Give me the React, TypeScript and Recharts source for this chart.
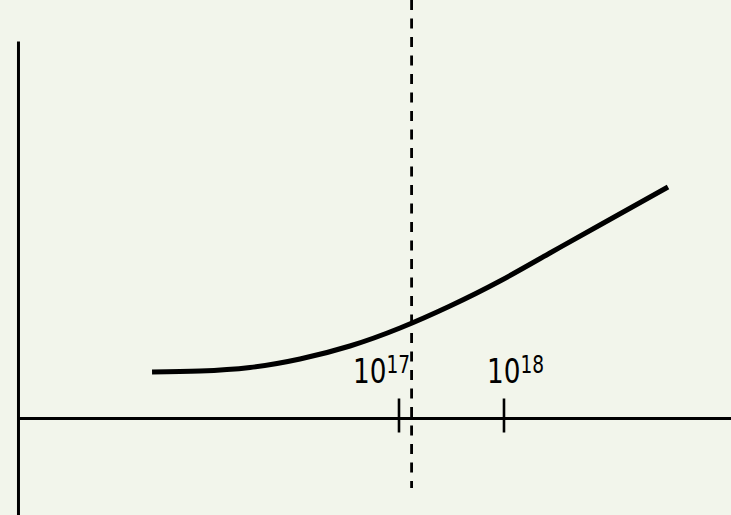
import React from 'react';
import { LineChart, Line, XAxis, YAxis, ReferenceLine, ReferenceDot } from 'recharts';

// log10 of the x quantity vs. the measured response (arbitrary units)
const logX = [14.648, 15.105, 15.581, 16.057, 16.533, 17.01, 17.486, 17.962, 18.438, 18.914, 19.562];
const response = [0.465, 0.475, 0.51, 0.595, 0.725, 0.905, 1.125, 1.375, 1.655, 1.935, 2.315];

// decade ticks on the horizontal axis
const tickDecades = [17, 18];
const tickExponents = ['17', '18'];

// critical value marked by the dashed line
const CRITICAL_LOG_X = 17.12;

const X_DOMAIN: [number, number] = [13.2, 20.162];
const Y_DOMAIN: [number, number] = [-0.965, 4.185];
const AXIS_X = 13.376;
const AXIS_TOP = 3.77;
const DASH_BOTTOM = -0.695;

const curveData = logX.map((x, i) => ({ x, y: response[i] }));

const INK = '#000';
const FONT = "'DejaVu Sans Condensed', 'DejaVu Sans', sans-serif";

// left edge of each label relative to its tick, in px
const labelDx = [-46, -17];

const App: React.FC = () => {
    return (
        <div style={{ position: 'absolute', left: 0, top: 0, width: 731, height: 515, background: '#f2f5eb' }}>
            <LineChart width={731} height={515} data={curveData} margin={{ top: 0, right: 0, bottom: 0, left: 0 }}>
                <XAxis type="number" dataKey="x" domain={X_DOMAIN} allowDataOverflow hide />
                <YAxis type="number" domain={Y_DOMAIN} allowDataOverflow hide />

                {/* axes */}
                <ReferenceLine
                    segment={[{ x: AXIS_X, y: AXIS_TOP }, { x: AXIS_X, y: Y_DOMAIN[0] }]}
                    stroke={INK}
                    strokeWidth={3}
                    ifOverflow="visible"
                />
                <ReferenceLine
                    segment={[{ x: AXIS_X, y: 0 }, { x: X_DOMAIN[1], y: 0 }]}
                    stroke={INK}
                    strokeWidth={3}
                    ifOverflow="visible"
                />

                {/* decade ticks crossing the axis */}
                {tickDecades.map((d) => (
                    <ReferenceLine
                        key={`tick-${d}`}
                        segment={[{ x: d, y: 0.2 }, { x: d, y: -0.14 }]}
                        stroke={INK}
                        strokeWidth={2.6}
                        ifOverflow="visible"
                    />
                ))}

                {/* dashed critical line */}
                <ReferenceLine
                    segment={[{ x: CRITICAL_LOG_X, y: Y_DOMAIN[1] }, { x: CRITICAL_LOG_X, y: DASH_BOTTOM }]}
                    stroke={INK}
                    strokeWidth={2.8}
                    strokeDasharray="10 8.5"
                    ifOverflow="visible"
                />

                <Line
                    type="natural"
                    dataKey="y"
                    stroke={INK}
                    strokeWidth={5}
                    dot={false}
                    activeDot={false}
                    isAnimationActive={false}
                />

                {/* 10^n labels above the ticks */}
                {tickDecades.map((d, i) => (
                    <ReferenceDot
                        key={`label-${d}`}
                        x={d}
                        y={0}
                        r={0}
                        ifOverflow="visible"
                        shape={(props: any) => (
                            <g transform={`translate(${props.cx + labelDx[i]},${props.cy - 35.5}) scale(0.86,1)`}>
                                <text x={0} y={0} fontFamily={FONT} fontSize={34} fill={INK}>
                                    <tspan>10</tspan>
                                    <tspan dy={-10.5} fontSize={24}>{tickExponents[i]}</tspan>
                                </text>
                            </g>
                        )}
                    />
                ))}
            </LineChart>
        </div>
    );
};

export default App;
